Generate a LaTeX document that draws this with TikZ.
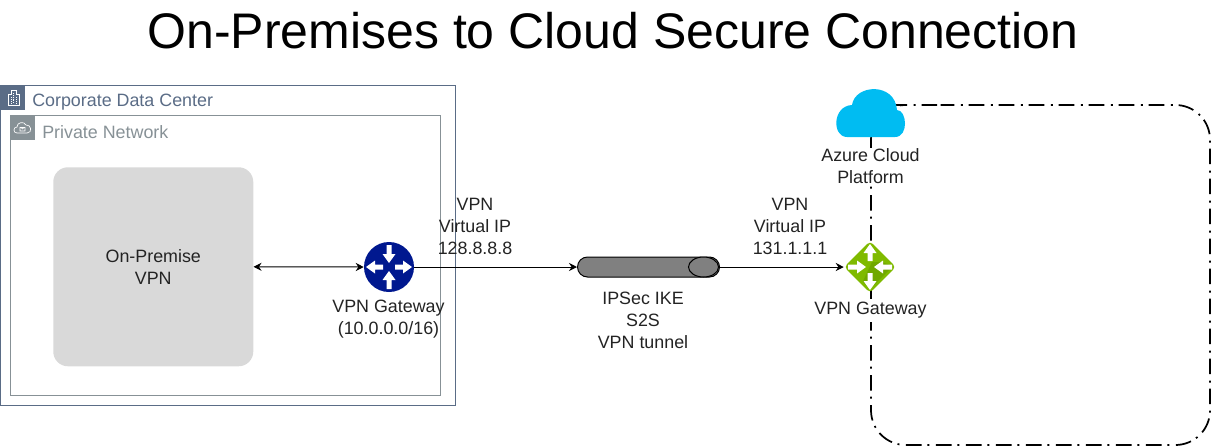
\documentclass[tikz,border=0pt]{standalone}
\usepackage{fontspec}
\setmainfont{Liberation Sans}
\usetikzlibrary{arrows.meta,shapes.geometric}
\definecolor{corpc}{HTML}{5A6C86}
\definecolor{privc}{HTML}{879196}
\definecolor{vpngrey}{HTML}{D9D9D9}
\definecolor{routerc}{HTML}{00188F}
\definecolor{greenc}{HTML}{7FBA00}
\definecolor{greend}{HTML}{70A800}
\definecolor{cloudc}{HTML}{00BCF2}
\definecolor{tunnelc}{HTML}{808080}
\definecolor{txtc}{HTML}{232323}
\newcommand{\lbl}{\fontsize{13.4}{16.5}\selectfont}
\tikzset{
 x=0.75pt,y=-0.75pt,
 lab/.style={align=center,inner sep=0pt,text=txtc,font=\lbl},
 link/.style={draw=black,line width=0.75pt,-{Stealth[length=6pt,width=6pt]}},
 dblink/.style={draw=black,line width=0.75pt,{Stealth[length=6pt,width=6pt]}-{Stealth[length=6pt,width=6pt]}},
 wht/.style={fill=white,draw=none,line width=0pt},
}
\newcommand{\arrowshape}[3]{% pointing outward
 \begin{scope}[shift={(#1,#2)},rotate=#3]
  \fill[white] (6,-2.5) -- (14,-2.5) -- (14,-6.5) -- (23,0) -- (14,6.5) -- (14,2.5) -- (6,2.5) -- cycle;
 \end{scope}}
\newcommand{\arrowin}[3]{% pointing to centre
 \begin{scope}[shift={(#1,#2)},rotate=#3]
  \fill[white] (22,-2.5) -- (13,-2.5) -- (13,-6.5) -- (4,0) -- (13,6.5) -- (13,2.5) -- (22,2.5) -- cycle;
 \end{scope}}
\begin{document}
\begin{tikzpicture}
\useasboundingbox (0,0) rectangle (1212,447);
% title
\node[inner sep=0pt,text=black,font=\fontsize{37.5}{40}\selectfont] (title) at (613,31) {On-Premises to Cloud Secure Connection};
% corporate
\node[draw=corpc,line width=0.75pt,minimum width=341.25pt,minimum height=240pt,inner sep=0pt,anchor=north west] (corp) at (0,85) {};
\node[fill=corpc,minimum width=18.75pt,minimum height=18.75pt,inner sep=0pt,anchor=north west] (corpicon) at (0,85) {};
\draw[white,line width=0.5pt] (8,105) -- (8,94) -- (11,94) -- (11,90) -- (16,90) -- (16,94) -- (19,94) -- (19,105) -- cycle;
\draw[white,line width=0.4pt,densely dotted] (11,97) -- (11,103) (13.5,93) -- (13.5,103) (16,97) -- (16,103);
\node[anchor=west,inner sep=0pt,text=corpc,font=\lbl] (corplabel) at (32,102) {Corporate Data Center};
% private
\node[draw=privc,line width=0.75pt,minimum width=322.5pt,minimum height=210pt,inner sep=0pt,anchor=north west] (priv) at (10,115) {};
\node[fill=privc,minimum width=18.75pt,minimum height=18.75pt,inner sep=0pt,anchor=north west] (privicon) at (10,115) {};
\draw[white,line width=0.5pt] (17,133) .. controls (13,133) and (13,127) .. (17,127) .. controls (17,122) and (24,121) .. (26,125) .. controls (31,124) and (33,133) .. (27,133) -- cycle;
\draw[white,line width=0.5pt] (20,127.5) rectangle (25,131) (21,127.5) arc (180:0:1.5);
\node[anchor=west,inner sep=0pt,text=privc,font=\lbl] (privlabel) at (42,132) {Private Network};
% on-premise box
\node[fill=vpngrey,rounded corners=11pt,minimum width=150pt,minimum height=149.25pt,inner sep=0pt,anchor=north west,lab] (onprem) at (53,167) {On-Premise\\VPN};
% azure dash-dot boundary
\draw[black,line width=1.3pt,rounded corners=26pt,dash pattern=on 11.7pt off 4.9pt on 1.5pt off 4.4pt,dash phase=1.5pt,line cap=butt] (906,105) -- (1210,105) -- (1210,445) -- (871,445) -- (871,105) -- cycle;
% cloud
\fill[cloudc] (847,137) .. controls (832,137) and (832,106) .. (852,105) .. controls (855,84) and (895,82) .. (897,110) .. controls (907,110) and (909,137) .. (895,137) -- cycle;
\node[wht,lab,inner ysep=1pt] (azurelabel) at (870.5,166.5) {Azure Cloud\\Platform};
% VPN gateway right label
\node[wht,lab,minimum height=17pt] (gwrlabel) at (870.5,310.5) {VPN Gateway};
% left gateway
\node[circle,fill=routerc,minimum size=37.5pt,inner sep=0pt] (gwl) at (389,267) {};
\arrowshape{389}{267}{0}
\arrowshape{389}{267}{180}
\arrowin{389}{267}{90}
\arrowin{389}{267}{270}
% tunnel
\node[draw=black,line width=0.75pt,fill=tunnelc,rounded corners=7.5pt,minimum width=106.5pt,minimum height=15pt,inner sep=0pt] (tunnel) at (648.5,267) {};
\node[ellipse,draw=black,line width=0.75pt,fill=tunnelc,minimum width=22.5pt,minimum height=15pt,inner sep=0pt] (tunnelcap) at (703.5,267) {};
% right gateway
\node[diamond,fill=greenc,rounded corners=3pt,minimum width=39pt,minimum height=39pt,inner sep=0pt] (gwr) at (870,267) {};
\begin{scope}
 \clip (870,245) -- (892,267) -- (870,289) -- (848,267) -- cycle;
 \fill[greend] (872,262) -- (858,292) -- (870,292) -- (895,267) -- (882,262) -- cycle;
\end{scope}
\arrowshape{870}{267}{-90}
\arrowshape{870}{267}{90}
\arrowin{870}{267}{0}
\arrowin{870}{267}{180}
% connectors
\draw[dblink] (onprem.east) -- (gwl.west);
\draw[link] (gwl.east) -- (tunnel.west);
\draw[link] (tunnelcap.east) -- (gwr.west);
% labels
\node[lab] (vipl) at (475,226.5) {VPN\\Virtual IP\\128.8.8.8};
\node[lab] (vipr) at (790,226.5) {VPN\\Virtual IP\\131.1.1.1};
\node[lab] (gwllabel) at (388.5,319.5) {VPN Gateway\\(10.0.0.0/16)};
\node[lab] (tunlabel) at (643,320) {IPSec IKE\\S2S\\VPN tunnel};
\end{tikzpicture}
\end{document}
